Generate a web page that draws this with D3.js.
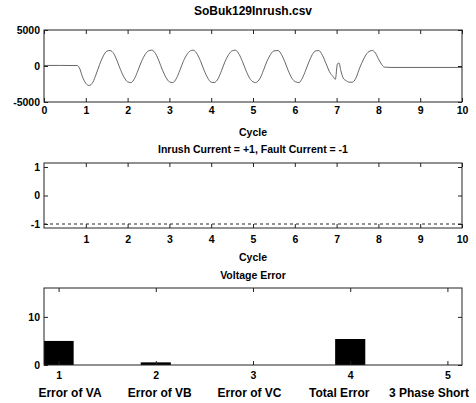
<!DOCTYPE html>
<html>
<head>
<meta charset="utf-8">
<script src="https://cdn.jsdelivr.net/npm/d3@7"></script>
<style>
  body { margin: 0; background: #fff; }
  svg text { font-family: "Liberation Sans", Arial, sans-serif; font-weight: bold; fill: #000; }
  .tick text { font-size: 10.5px; }
  .tick line { stroke: #222; }
</style>
</head>
<body>
<svg id="chart" width="476" height="403"></svg>
<script>
// inrush waveform (cycle, amplitude)
var waveCycle = [0, 0.4, 0.8, 0.85, 0.92, 1.0, 1.08, 1.17, 1.25, 1.33, 1.42, 1.5, 1.58,
  1.67, 1.75, 1.83, 1.92, 2.0, 2.08, 2.17, 2.25, 2.33, 2.42, 2.5, 2.58,
  2.67, 2.75, 2.83, 2.92, 3.0, 3.08, 3.17, 3.25, 3.33, 3.42, 3.5, 3.57,
  3.67, 3.75, 3.83, 3.92, 4.0, 4.07, 4.17, 4.25, 4.33, 4.42, 4.5, 4.58,
  4.67, 4.75, 4.83, 4.92, 5.0, 5.06, 5.17, 5.25, 5.33, 5.42, 5.5, 5.6,
  5.68, 5.76, 5.84, 5.93, 6.02, 6.1, 6.18, 6.26, 6.34, 6.42, 6.5, 6.57,
  6.66, 6.75, 6.83, 6.92, 6.97, 7.02, 7.06, 7.1, 7.17, 7.22, 7.3, 7.38,
  7.46, 7.55, 7.65, 7.75, 7.85, 7.93, 8.0, 8.08, 8.14, 8.3, 10];
var waveValue = [80, 80, 60, -300, -1500, -2400, -2700, -2250, -1100, 200, 1400, 2050, 2150,
  1700, 700, -500, -1600, -2200, -2300, -1700, -600, 600, 1600, 2100, 2200,
  1700, 700, -500, -1600, -2200, -2300, -1700, -600, 600, 1600, 2100, 2200,
  1600, 600, -600, -1700, -2250, -2300, -1700, -600, 600, 1600, 2100, 2200,
  1600, 600, -600, -1700, -2200, -2300, -1700, -600, 600, 1600, 2100, 2150,
  1600, 600, -600, -1700, -2200, -2300, -1700, -600, 600, 1600, 2100, 2150,
  1500, 300, -800, -1500, -1850, 300, 400, -600, -1800, -2000, -2250, -2250,
  -1700, -300, 1000, 1900, 2150, 1800, 1000, 200, -150, -200, -200];

// classification per cycle: inrush = +1, fault = -1
var classCycle = [0, 10];
var classValue = [-1, -1];

// voltage error bars
var errorIndex = [1, 2, 3, 4, 5];
var errorValue = [5.0, 0.55, 0, 5.4, 0];
var errorNames = ['Error of VA', 'Error of VB', 'Error of VC', 'Total Error', '3 Phase Short'];

var svg = d3.select('#chart');
var left = 44, right = 462;

function drawAxes(g, x, y, xTicks, yTicks, pad) {
  var fmt = function(d) { return String(d); };
  g.append('g')
    .attr('transform', 'translate(0,' + y.range()[0] + ')')
    .call(d3.axisBottom(x).tickValues(xTicks).tickSize(-4).tickPadding(pad).tickFormat(fmt));
  g.append('g')
    .attr('transform', 'translate(0,' + y.range()[1] + ')')
    .call(d3.axisTop(x).tickValues(xTicks).tickSize(-4).tickFormat(''));
  g.append('g')
    .attr('transform', 'translate(' + x.range()[0] + ',0)')
    .call(d3.axisLeft(y).tickValues(yTicks).tickSize(-4).tickPadding(4).tickFormat(fmt));
  g.append('g')
    .attr('transform', 'translate(' + x.range()[1] + ',0)')
    .call(d3.axisRight(y).tickValues(yTicks).tickSize(-4).tickFormat(''));
  g.selectAll('.domain').remove();
  g.append('rect')
    .attr('x', x.range()[0]).attr('y', y.range()[1])
    .attr('width', x.range()[1] - x.range()[0])
    .attr('height', y.range()[0] - y.range()[1])
    .attr('fill', 'none').attr('stroke', '#222').attr('stroke-width', 1);
}

function label(txt, cx, y, size) {
  svg.append('text').attr('x', cx).attr('y', y)
    .attr('text-anchor', 'middle').style('font-size', size + 'px').text(txt);
}

// ---- top: waveform
var x1 = d3.scaleLinear().domain([0, 10]).range([left, right]);
var y1 = d3.scaleLinear().domain([-5000, 5000]).range([102, 30]);
var g1 = svg.append('g');
g1.append('path')
  .datum(d3.zip(waveCycle, waveValue))
  .attr('fill', 'none').attr('stroke', '#555').attr('stroke-width', 0.9)
  .attr('d', d3.line().x(function(d) { return x1(d[0]); }).y(function(d) { return y1(d[1]); })
    .curve(d3.curveMonotoneX));
drawAxes(g1, x1, y1, d3.range(0, 11), [-5000, 0, 5000], 5);
label('SoBuk129Inrush.csv', 253, 15, 12);
label('Cycle', 253, 136, 10.5);

// ---- middle: classification
var x2 = d3.scaleLinear().domain([0, 10]).range([left, right]);
var y2 = d3.scaleLinear().domain([-1.14, 1.14]).range([228, 163]);
var g2 = svg.append('g');
g2.append('path')
  .datum(d3.zip(classCycle, classValue))
  .attr('fill', 'none').attr('stroke', '#111').attr('stroke-width', 0.9)
  .attr('stroke-dasharray', '3,3')
  .attr('d', d3.line().x(function(d) { return x2(d[0]); }).y(function(d) { return y2(d[1]); }));
drawAxes(g2, x2, y2, d3.range(1, 11), [-1, 0, 1], 8);
label('Inrush Current = +1, Fault Current = -1', 253, 153, 10.5);
label('Cycle', 253, 261, 10.5);

// ---- bottom: voltage error
var x3 = d3.scaleLinear().domain([0.85, 5.15]).range([left, right]);
var y3 = d3.scaleLinear().domain([0, 16]).range([365, 288]);
var g3 = svg.append('g');
svg.append('clipPath').attr('id', 'clip3').append('rect')
  .attr('x', left).attr('y', 288).attr('width', right - left).attr('height', 77);
g3.append('g').attr('clip-path', 'url(#clip3)')
  .selectAll('rect').data(errorIndex).enter().append('rect')
  .attr('x', function(d) { return x3(d - 0.155); })
  .attr('width', function(d) { return x3(d + 0.155) - x3(d - 0.155); })
  .attr('y', function(d, i) { return y3(errorValue[i]); })
  .attr('height', function(d, i) { return y3(0) - y3(errorValue[i]); })
  .attr('fill', '#000');
drawAxes(g3, x3, y3, errorIndex, [0, 10], 7);
label('Voltage Error', 253, 279, 10.5);

var nameScale = d3.scalePoint().domain(errorNames).range([70, 429]);
svg.selectAll('text.cat').data(errorNames).enter().append('text')
  .attr('class', 'cat')
  .attr('x', function(d) { return nameScale(d); })
  .attr('y', 397)
  .attr('text-anchor', 'middle')
  .style('font-size', '12px')
  .text(function(d) { return d; });
</script>
</body>
</html>
